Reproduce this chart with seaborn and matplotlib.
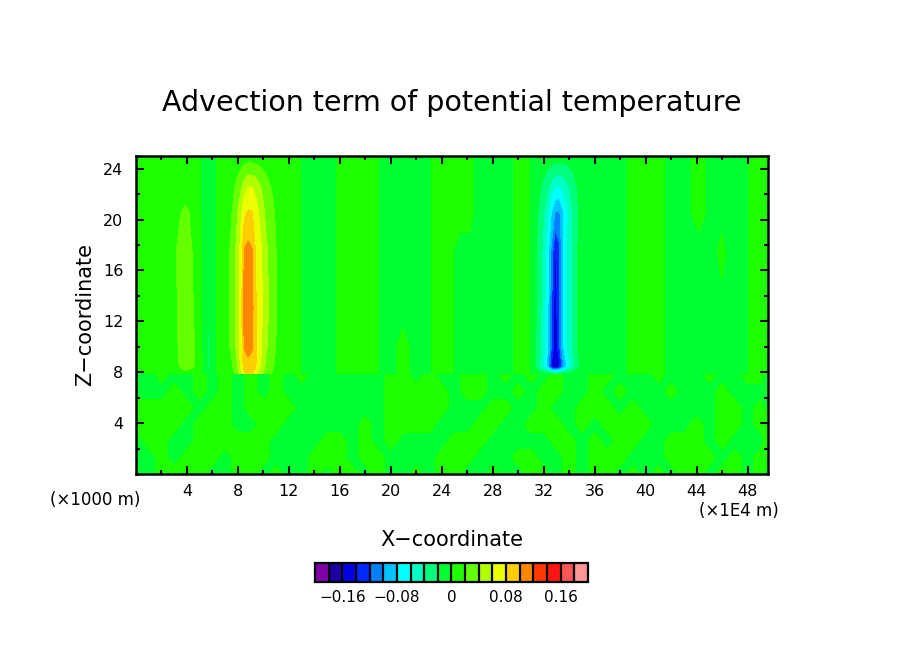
import numpy as np
import matplotlib
matplotlib.use("Agg")
import matplotlib.pyplot as plt
import seaborn as sns
from matplotlib.colors import ListedColormap, BoundaryNorm
from matplotlib.cm import ScalarMappable

# Field, values in units of 0.01
# upper part (z >= 7.8): vertical bands + warm plume (x~9) + cold plume (x~33)
upper_x = [0.0, 2.4, 3.0, 3.9, 4.8, 5.4, 5.7, 6.0, 6.6,
           7.0, 7.5, 7.9, 8.25, 8.5, 8.8, 9.1, 9.4, 9.8, 10.2, 10.7, 11.2,
           12.0, 13.8, 14.8, 16.6, 18.1, 19.9, 20.95, 22.0, 22.6, 23.8, 24.4,
           25.4, 26.2, 26.8, 29.0, 30.2, 30.6,
           31.2, 31.5, 31.9, 32.3, 32.6, 32.9, 33.2, 33.5, 33.9, 34.3, 34.7, 35.3,
           38.0, 39.2, 40.9, 42.1, 43.0, 44.15, 45.3, 45.95, 46.6, 47.5, 48.7, 49.6]
upper_z = [7.8, 8.45, 10.0, 13.0, 17.5, 20.5, 22.5, 24.5, 25.0]
upper_vals = [
    # z = 7.8
    [1, 1, 1, 1.2, 1, -1, -1, -1, 1,
     1, 1.2, 2.5, 5, 7.5, 8.2, 8.1, 6.5, 4.5, 2.8, 1.8, 1,
     1, -1, -1, 1, 1, -1, 1, -1, -1, 1, 1, -1, -1, -1, -1, 1, 1,
     -1, -1, -1, -1, -1, -1, -1, -1, -1, -1, -1, -1,
     -1, 1, 1, -1, -1, -1, -1, -1, -1, -1, 1, 1],
    # z = 8.45
    [1, 1, 1.4, 2.8, 1.8, -1, -2.5, -1, 1,
     1, 1.5, 3.5, 6.5, 8.8, 9.4, 9.1, 8.1, 5.8, 3.5, 2.2, 1.2,
     1, -1, -1, 1, 1, -1, 1, -1, -1, 1, 1, -1, -1, -1, -1, 1, 1,
     -1.2, -3, -5.5, -9, -14.2, -16.5, -15, -11, -7, -4.5, -2.3, -1,
     -1, 1, 1, -1, -1, -1, -1, -1, -1, -1, 1, 1],
    # z = 10
    [1, 1, 1.5, 3, 1.7, -1, -2.5, -1, 1,
     1, 2.4, 4.4, 7.0, 10.2, 10.6, 10.3, 8.1, 6.3, 4.3, 2.8, 1.3,
     1, -1, -1, 1, 1, -1, 1, -1, -1, 1, 1, -1, -1, -1, -1, 1, 1,
     -1, -2.6, -4.7, -7.8, -12.1, -15.7, -12.8, -8.5, -5.7, -3.6, -1.8, -1,
     -1, 1, 1, -1, -1, -1, -1, -1, -1, -1, 1, 1],
    # z = 13
    [1, 1, 1.6, 3, 1.5, -1, -1.8, -1, 1,
     1, 2.5, 4.6, 7.2, 10.6, 11.2, 10.7, 8.2, 6.6, 4.6, 3.1, 1.5,
     1, -1, -1, 1, 1, -1, -1, -1, -1, 1, 1, -1, -1, -1, -1, 1, 1,
     -1, -2.5, -4.6, -7.6, -11.8, -15.3, -12.3, -8.2, -5.6, -3.6, -1.8, -1,
     -1, 1, 1, -1, -1, -1, -1, -1, -1, -1, 1, 1],
    # z = 17.5
    [1, 1, 1.8, 3, 1.2, -1, -1, -1, 1,
     1, 2.4, 4.4, 6.8, 10.2, 10.6, 10.2, 7.8, 6.3, 4.4, 2.9, 1.4,
     1, -1, -1, 1, 1, -1, -1, -1, -1, 1, 1, -1, -1, -1, -1, 1, 1,
     -1, -2.3, -4.2, -7.0, -10.5, -14.3, -12.5, -8.6, -5.8, -3.7, -1.9, -1,
     -1, 1, 1, -1, -1, -1, -1, 1, -1, -1, 1, 1],
    # z = 20.5
    [1, 1, 1.4, 2.4, 1, -1, -1, -1, 1,
     1, 1.9, 3.6, 5.8, 7.6, 8.3, 8.2, 7.0, 5.2, 3.6, 2.4, 1.3,
     1, -1, -1, 1, 1, -1, -1, -1, -1, 1, 1, 1, 1, -1, -1, 1, 1,
     -1, -1.8, -3.5, -5.6, -8.1, -10.2, -10.5, -8.5, -6.1, -3.8, -2.1, -1,
     -1, 1, 1, -1, -1, 1, -1, -1, -1, -1, 1, 1],
    # z = 22.5
    [1, 1, 1, 1.2, 1, -1, -1, -1, 1,
     1, 1.4, 2.4, 3.8, 5.2, 6.1, 6.1, 5.4, 4.1, 2.8, 1.8, 1.1,
     1, -1, -1, 1, 1, -1, -1, -1, -1, 1, 1, 1, 1, -1, -1, 1, 1,
     -1, -1.3, -2.4, -3.6, -5.1, -6.1, -6.3, -5.6, -4.4, -3.1, -1.8, -1,
     -1, 1, 1, -1, -1, 1, -1, -1, -1, -1, 1, 1],
    # z = 24.5
    [1, 1, 1, 1, 1, -1, -1, -1, 1,
     1, 1, 1.2, 1.4, 1.7, 1.9, 1.9, 1.8, 1.5, 1.3, 1.1, 1,
     1, -1, -1, 1, 1, -1, -1, -1, -1, 1, 1, 1, 1, -1, -1, 1, 1,
     -1, -1, -1.2, -1.4, -1.6, -1.8, -1.9, -1.9, -1.7, -1.4, -1.2, -1,
     -1, 1, 1, -1, -1, 1, -1, -1, -1, -1, 1, 1],
    # z = 25
    [1, 1, 1, 1, 1, -1, -1, -1, 1,
     1, 1, 1, 1, 1, 1, 1, 1, 1, 1, 1, 1,
     1, -1, -1, 1, 1, -1, -1, -1, -1, 1, 1, 1, 1, -1, -1, 1, 1,
     -1, -1, -1, -1, -1, -1, -1, -1, -1, -1, -1, -1,
     -1, 1, 1, -1, -1, 1, -1, -1, -1, -1, 1, 1],
]

# lower part (z < 7.8): streaky mix of the two greens
lower_x = list(range(50)) + [49.6]
lower_z = [0.0, 1.3, 2.6, 3.9, 5.2, 6.5, 7.8]
lower_vals = [
    # z = 0
    [-1, -1, 1, 1, 1, 1, -1, -1, 1, 1, -1, 1, -1, -1, 1, -1, 1, 1, -1, 1,
     -1, -1, 1, -1, 1, 1, -1, -1, 1, -1, -1, 1, 1, -1, 1, -1, 1, 1, -1, 1,
     -1, 1, -1, 1, 1, -1, 1, 1, -1, 1, -1],
    # z = 1.3
    [-1, -1, 1, -1, 1, 1, 1, -1, 1, 1, 1, -1, -1, -1, 1, 1, 1, -1, 1, 1,
     -1, -1, -1, -1, 1, 1, 1, -1, -1, -1, 1, 1, -1, -1, 1, -1, 1, 1, 1, -1,
     -1, -1, 1, 1, 1, 1, -1, 1, -1, 1, 1],
    # z = 2.6
    [-1, 1, 1, -1, -1, 1, 1, 1, 1, 1, 1, -1, -1, -1, -1, 1, 1, -1, 1, -1,
     1, -1, -1, -1, -1, 1, 1, 1, -1, -1, -1, -1, -1, 1, 1, -1, 1, -1, 1, 1,
     -1, -1, 1, 1, 1, -1, 1, -1, -1, -1, 1],
    # z = 3.9
    [1, 1, 1, 1, -1, 1, 1, 1, -1, -1, 1, 1, -1, -1, -1, -1, -1, -1, 1, -1,
     1, 1, 1, 1, -1, -1, -1, 1, 1, -1, -1, 1, 1, 1, -1, 1, -1, 1, 1, 1,
     1, -1, -1, -1, 1, -1, 1, 1, -1, 1, 1],
    # z = 5.2
    [1, 1, 1, 1, 1, -1, 1, 1, -1, 1, 1, 1, 1, -1, -1, -1, -1, -1, -1, -1,
     1, 1, 1, 1, 1, -1, -1, -1, 1, 1, -1, -1, 1, -1, -1, 1, 1, 1, -1, 1,
     -1, -1, -1, -1, -1, -1, 1, 1, -1, 1, -1],
    # z = 6.5
    [-1, -1, -1, 1, -1, 1, -1, 1, -1, 1, -1, 1, -1, -1, -1, -1, -1, -1, -1, -1,
     1, 1, 1, 1, 1, -1, 1, 1, -1, -1, 1, -1, 1, 1, -1, -1, 1, -1, 1, -1,
     -1, -1, 1, -1, -1, -1, 1, -1, -1, -1, -1],
    # z = 7.8
    [-1, -1, 1, -1, -1, 1, -1, 1, -1, 1, -1, 1, -1, 1, -1, -1, -1, -1, -1, -1,
     1, 1, -1, 1, -1, -1, 1, 1, -1, 1, -1, 1, -1, 1, -1, -1, 1, 1, -1, -1,
     -1, 1, -1, -1, -1, 1, -1, -1, 1, 1, -1],
]

levels = [-0.20, -0.18, -0.16, -0.14, -0.12, -0.10, -0.08, -0.06, -0.04, -0.02, 0.0,
          0.02, 0.04, 0.06, 0.08, 0.10, 0.12, 0.14, 0.16, 0.18, 0.20]
colors = ["#8200aa", "#1e00a0", "#0000e1", "#0028ff", "#0082ff", "#00c3ff", "#00ffff",
          "#00ffc3", "#00ff7d", "#00ff32", "#1eff00", "#64ff00", "#afff00", "#ebff00",
          "#ffcd00", "#ff8700", "#ff3700", "#ff1414", "#ff5555", "#ff9696"]

x_ticks = [4, 8, 12, 16, 20, 24, 28, 32, 36, 40, 44, 48]
z_ticks = [4, 8, 12, 16, 20, 24]
cbar_ticks = [-0.16, -0.08, 0.0, 0.08, 0.16]
cbar_labels = ["\u22120.16", "\u22120.08", "0", "0.08", "0.16"]

sns.set_style("white")
plt.rcParams["font.family"] = ["DejaVu Sans"]
plt.rcParams.update({"text.color": "black", "axes.labelcolor": "black",
                     "xtick.color": "black", "ytick.color": "black"})

fig = plt.figure(figsize=(9.04, 6.54), dpi=100)
ax = fig.add_axes([136 / 904, 1 - 474 / 654, 632 / 904, 318 / 654])
ax.set_axisbelow(False)

cmap = ListedColormap(colors)
norm = BoundaryNorm(levels, cmap.N)
up = np.array(upper_vals) * 0.01
lo = np.array(lower_vals) * 0.01
ax.contourf(upper_x, upper_z, up, levels=levels, cmap=cmap, norm=norm, antialiased=False)
ax.contourf(lower_x, lower_z, lo, levels=levels, cmap=cmap, norm=norm, antialiased=False)

ax.set_xlim(0, 49.6)
ax.set_ylim(0, 25)
ax.set_xticks(x_ticks)
ax.set_xticks(np.arange(2, 50, 4), minor=True)
ax.set_yticks(z_ticks)
ax.set_yticks(np.arange(2, 25, 4), minor=True)
ax.tick_params(which="both", direction="in", bottom=True, left=True, top=True, right=True,
               width=1.5, color="black")
ax.tick_params(which="major", length=5.5)
ax.tick_params(which="minor", length=3)
ax.tick_params(axis="x", labelsize=11.5, pad=7)
ax.tick_params(axis="y", labelsize=11.5, pad=9)
for s in ax.spines.values():
    s.set_linewidth(1.8)
    s.set_color("black")
    s.set_visible(True)
    s.set_zorder(5)

fig.text(0.5, 1 - 103 / 654, "Advection term of potential temperature",
         ha="center", va="center", fontsize=20.5)
fig.text(452 / 904, 1 - 540 / 654, "X\u2212coordinate", ha="center", va="center", fontsize=15)
fig.text(85 / 904, 1 - 315 / 654, "Z\u2212coordinate", ha="center", va="center",
         rotation=90, fontsize=15)
fig.text(95 / 904, 1 - 500 / 654, "(\u00d71000 m)", ha="center", va="center", fontsize=12)
fig.text(739 / 904, 1 - 511 / 654, "(\u00d71E4 m)", ha="center", va="center", fontsize=12)

cax = fig.add_axes([315 / 904, 1 - 582 / 654, 273 / 904, 19 / 654])
cb = fig.colorbar(ScalarMappable(norm=norm, cmap=cmap), cax=cax, orientation="horizontal",
                  ticks=cbar_ticks, drawedges=True)
cb.ax.set_xticklabels(cbar_labels)
cb.outline.set_linewidth(1.6)
cb.outline.set_edgecolor("black")
cb.dividers.set_linewidth(1.6)
cb.dividers.set_color("black")
cax.minorticks_off()
cax.tick_params(which="both", length=0, labelsize=11, pad=6)

fig.savefig("out.png", dpi=100)
